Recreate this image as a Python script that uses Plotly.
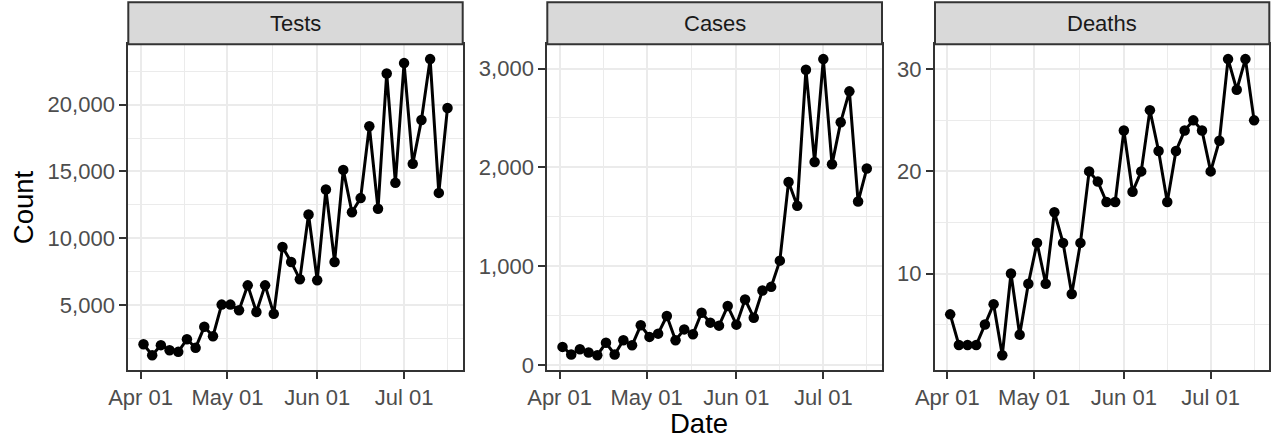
import plotly.graph_objects as go
import datetime as _dt

W, H = 1276, 441

dates = [
    "2020-04-02", "2020-04-05", "2020-04-08", "2020-04-11", "2020-04-14", "2020-04-17",
    "2020-04-20", "2020-04-23", "2020-04-26", "2020-04-29", "2020-05-02", "2020-05-05",
    "2020-05-08", "2020-05-11", "2020-05-14", "2020-05-17", "2020-05-20", "2020-05-23",
    "2020-05-26", "2020-05-29", "2020-06-01", "2020-06-04", "2020-06-07", "2020-06-10",
    "2020-06-13", "2020-06-16", "2020-06-19", "2020-06-22", "2020-06-25", "2020-06-28",
    "2020-07-01", "2020-07-04", "2020-07-07", "2020-07-10", "2020-07-13", "2020-07-16",
]

tests = [2090, 1270, 2020, 1640, 1520, 2460, 1820, 3390, 2690, 5050, 5050, 4630,
         6490, 4500, 6490, 4360, 9360, 8240, 6940, 11790, 6870, 13650, 8240, 15120,
         11950, 13010, 18380, 12210, 22330, 14150, 23100, 15570, 18850, 23400, 13400, 19750]

cases = [185, 108, 161, 128, 101, 226, 108, 252, 201, 403, 286, 319,
         497, 252, 362, 312, 530, 430, 400, 598, 410, 664, 480, 755,
         792, 1057, 1853, 1611, 2988, 2054, 3095, 2031, 2457, 2769, 1655, 1988]

deaths = [6, 3, 3, 3, 5, 7, 2, 10, 4, 9, 13, 9,
          16, 13, 8, 13, 20, 19, 17, 17, 24, 18, 20, 26,
          22, 17, 22, 24, 25, 24, 20, 23, 31, 28, 31, 25]

panel_titles = ["Tests", "Cases", "Deaths"]
series = [tests, cases, deaths]

x_ticks = ["2020-04-01", "2020-05-01", "2020-06-01", "2020-07-01"]
x_ticklabels = ["Apr 01", "May 01", "Jun 01", "Jul 01"]
x_minor = ["2020-04-16", "2020-05-16 12:00", "2020-06-16", "2020-07-16"]

y_ticks = [[5000, 10000, 15000, 20000], [0, 1000, 2000, 3000], [10, 20, 30]]
y_ticklabels = [["5,000", "10,000", "15,000", "20,000"],
                ["0", "1,000", "2,000", "3,000"],
                ["10", "20", "30"]]
y_minor = [[2500, 7500, 12500, 17500, 22500],
           [500, 1500, 2500],
           [5, 15, 25]]

# layout (pixels)
panel_x = [(128.3, 462.7), (547.3, 882.0), (935.0, 1269.3)]
panel_top, panel_bottom = 44.3, 370.0
strip_top = 2.3

FONT = "Liberation Sans, Arial, sans-serif"
GRID = "#EBEBEB"
DARK = "#333333"
TICKC = "#4D4D4D"

fig = go.Figure()

d0 = _dt.datetime.fromisoformat(dates[0])
d1 = _dt.datetime.fromisoformat(dates[-1])
span = d1 - d0
xr = [(d0 - span * 0.05).isoformat(), (d1 + span * 0.05).isoformat()]

shapes = []
annotations = []
for i, (title, vals) in enumerate(zip(panel_titles, series)):
    n = "" if i == 0 else str(i + 1)
    fig.add_trace(go.Scatter(
        x=dates, y=vals, mode="lines+markers",
        line=dict(color="black", width=3),
        marker=dict(color="black", size=10.5),
        xaxis="x" + n, yaxis="y" + n, showlegend=False,
        hoverinfo="x+y",
    ))
    lo, hi = min(vals), max(vals)
    pad = (hi - lo) * 0.05
    x0, x1 = panel_x[i]
    dom_x = [x0 / W, x1 / W]
    dom_y = [1 - panel_bottom / H, 1 - panel_top / H]
    fig.layout["xaxis" + n] = dict(
        domain=dom_x, anchor="y" + n, type="date", range=xr,
        tickmode="array", tickvals=x_ticks, ticktext=x_ticklabels,
        showgrid=True, gridcolor=GRID, gridwidth=2,
        minor=dict(tickmode="array", tickvals=x_minor, showgrid=True,
                   gridcolor=GRID, gridwidth=1, ticks=""),
        showline=True, mirror=True, linecolor=DARK, linewidth=2,
        ticks="outside", ticklen=7, tickwidth=2, tickcolor=DARK,
        tickfont=dict(family=FONT, size=22, color=TICKC),
        zeroline=False, fixedrange=True, automargin=False,
    )
    fig.layout["yaxis" + n] = dict(
        domain=dom_y, anchor="x" + n, range=[lo - pad, hi + pad],
        tickmode="array", tickvals=y_ticks[i], ticktext=y_ticklabels[i],
        showgrid=True, gridcolor=GRID, gridwidth=2,
        minor=dict(tickmode="array", tickvals=y_minor[i], showgrid=True,
                   gridcolor=GRID, gridwidth=1, ticks=""),
        showline=True, mirror=True, linecolor=DARK, linewidth=2,
        ticks="outside", ticklen=7, tickwidth=2, tickcolor=DARK,
        tickfont=dict(family=FONT, size=22, color=TICKC),
        zeroline=False, fixedrange=True, automargin=False,
    )
    # strip
    shapes.append(dict(
        type="rect", xref="paper", yref="paper",
        x0=x0 / W, x1=x1 / W, y0=1 - panel_top / H, y1=1 - strip_top / H,
        fillcolor="#D9D9D9", line=dict(color=DARK, width=2), layer="above",
    ))
    annotations.append(dict(
        x=(x0 + x1) / 2 / W, y=1 - (strip_top + panel_top) / 2 / H,
        xref="paper", yref="paper", text=title, showarrow=False,
        xanchor="center", yanchor="middle",
        font=dict(family=FONT, size=22, color="#1A1A1A"),
    ))

annotations.append(dict(
    x=(panel_x[0][0] + panel_x[2][1]) / 2 / W, y=1 - 423 / H,
    xref="paper", yref="paper", text="Date", showarrow=False,
    xanchor="center", yanchor="middle",
    font=dict(family=FONT, size=27.5, color="black"),
))
annotations.append(dict(
    x=23 / W, y=1 - (panel_top + panel_bottom) / 2 / H,
    xref="paper", yref="paper", text="Count", showarrow=False, textangle=-90,
    xanchor="center", yanchor="middle",
    font=dict(family=FONT, size=27.5, color="black"),
))

fig.update_layout(
    width=W, height=H, margin=dict(l=0, r=0, t=0, b=0, autoexpand=False),
    paper_bgcolor="white", plot_bgcolor="white",
    shapes=shapes, annotations=annotations, showlegend=False,
)

fig.write_html("out.html")
